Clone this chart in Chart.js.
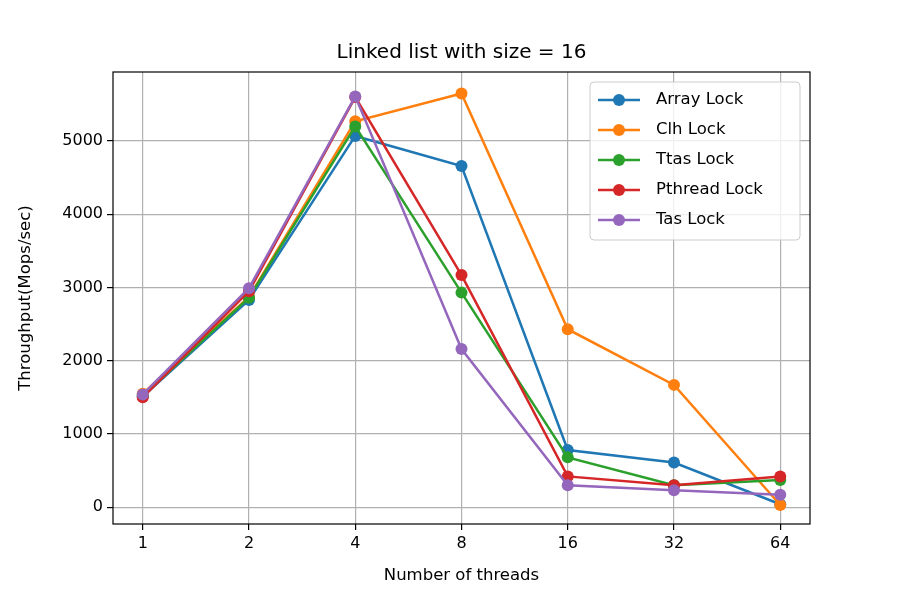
<!DOCTYPE html>
<html><head><meta charset="utf-8">
<script src="https://cdn.jsdelivr.net/npm/chart.js@4/dist/chart.umd.min.js"></script>
<style>body{margin:0;background:#fff}#c{width:900px;height:600px}</style>
</head><body><div id="c"><canvas id="chart" width="900" height="600"></canvas></div>
<script>
const threads = ['1', '2', '4', '8', '16', '32', '64'];
const arrayLock = [1510, 2830, 5070, 4660, 780, 610, 40];
const clhLock = [1550, 2870, 5270, 5650, 2430, 1670, 30];
const ttasLock = [1520, 2860, 5200, 2930, 680, 300, 370];
const pthreadLock = [1500, 2950, 5600, 3170, 420, 300, 420];
const tasLock = [1540, 2990, 5610, 2160, 300, 230, 170];
const yTicks = [0, 1000, 2000, 3000, 4000, 5000];

const font = 'DejaVu Sans';
const series = [
  ['Array Lock', arrayLock, '#1f77b4'],
  ['Clh Lock', clhLock, '#ff7f0e'],
  ['Ttas Lock', ttasLock, '#2ca02c'],
  ['Pthread Lock', pthreadLock, '#d62728'],
  ['Tas Lock', tasLock, '#9467bd']
];

const frame = {
  id: 'frame',
  afterDraw(chart) {
    const ctx = chart.ctx, a = chart.chartArea;
    ctx.save();
    ctx.strokeStyle = '#000'; ctx.lineWidth = 1.2;
    ctx.strokeRect(a.left, a.top, a.right - a.left, a.bottom - a.top);
    ctx.fillStyle = '#000'; ctx.font = '20px ' + font;
    ctx.textAlign = 'center'; ctx.textBaseline = 'alphabetic';
    ctx.fillText('Linked list with size = 16', (a.left + a.right) / 2, 58);
    // legend
    const lx = 590, ly = 82, w = 210, h = 158;
    ctx.fillStyle = 'rgba(255,255,255,0.8)';
    ctx.strokeStyle = '#ccc'; ctx.lineWidth = 1;
    ctx.beginPath(); ctx.roundRect(lx, ly, w, h, 4); ctx.fill(); ctx.stroke();
    ctx.font = '16.5px ' + font; ctx.textAlign = 'left'; ctx.textBaseline = 'middle';
    series.forEach((s, i) => {
      const y = 100 + i * 30;
      ctx.strokeStyle = s[2]; ctx.lineWidth = 2.5;
      ctx.beginPath(); ctx.moveTo(598, y); ctx.lineTo(640, y); ctx.stroke();
      ctx.fillStyle = s[2];
      ctx.beginPath(); ctx.arc(619, y, 6, 0, Math.PI * 2); ctx.fill();
      ctx.fillStyle = '#000'; ctx.fillText(s[0], 656, y);
    });
    ctx.restore();
  }
};

new Chart(document.getElementById('chart'), {
  type: 'line',
  data: {
    datasets: series.map((s, i) => ({
      label: s[0],
      data: s[1].map((v, j) => ({ x: j, y: v })),
      borderColor: s[2], backgroundColor: s[2],
      borderWidth: 2.5, pointRadius: 6, pointHoverRadius: 6,
      pointBorderWidth: 0, tension: 0, order: series.length - i
    }))
  },
  options: {
    responsive: false, animation: false,
    layout: { padding: { left: 12, right: 90, top: 72, bottom: 10 } },
    plugins: { legend: { display: false }, tooltip: { enabled: false } },
    scales: {
      x: {
        type: 'linear', min: -0.28, max: 6.28,
        afterBuildTicks: s => { s.ticks = threads.map((t, i) => ({ value: i })); },
        afterFit: s => { s.height = 66; },
        ticks: { callback: v => threads[v], color: '#000', font: { family: font, size: 16 }, padding: 4 },
        grid: { color: '#b0b0b0', lineWidth: 1.2, tickLength: 6, tickColor: '#000' },
        border: { display: false },
        title: { display: true, text: 'Number of threads', color: '#000', font: { family: font, size: 16.5 }, padding: { top: 0 } }
      },
      y: {
        min: -230, max: 5943,
        afterBuildTicks: s => { s.ticks = yTicks.map(v => ({ value: v })); },
        afterFit: s => { s.width = 101; },
        ticks: { callback: v => String(v), color: '#000', font: { family: font, size: 16 }, padding: 4 },
        grid: { color: '#b0b0b0', lineWidth: 1.2, tickLength: 6, tickColor: '#000' },
        border: { display: false },
        title: { display: true, text: 'Throughput(Mops/sec)', color: '#000', font: { family: font, size: 16.5 }, padding: { bottom: 2 } }
      }
    }
  },
  plugins: [frame]
});
</script></body></html>
